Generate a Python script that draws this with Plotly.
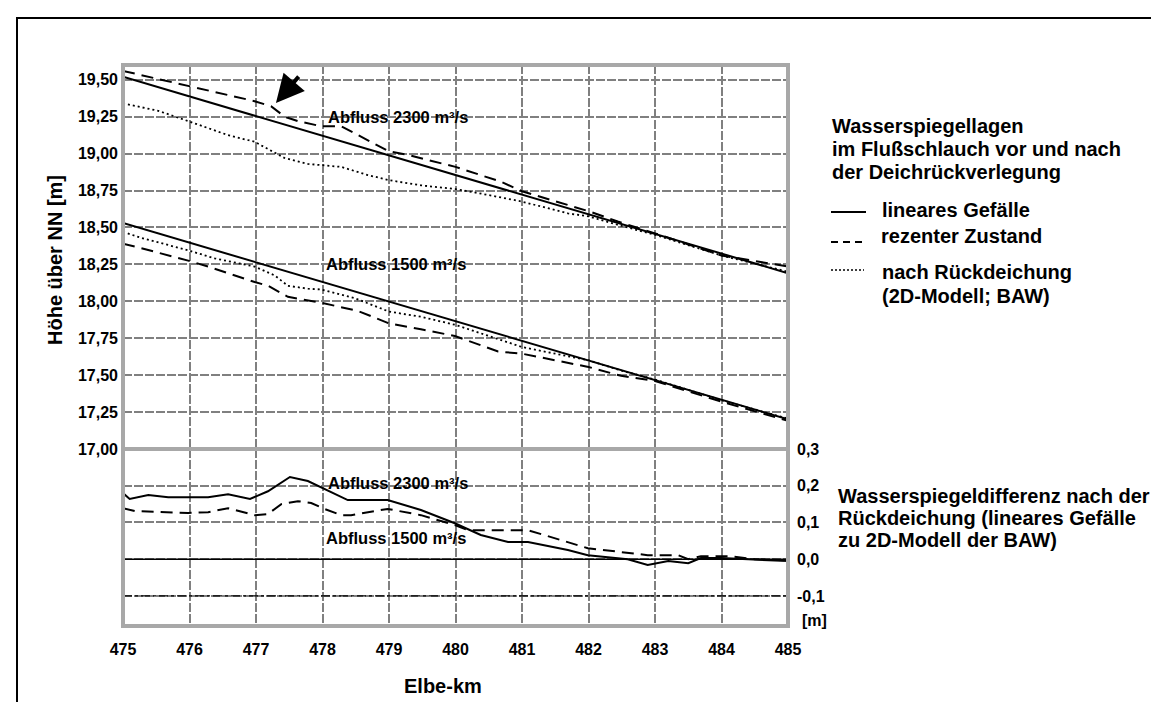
import plotly.graph_objects as go

# ---------------- data ----------------
km_lin = [475.0, 485.0]
lin_2300 = [19.52, 18.19]
lin_1500 = [18.53, 17.20]

km_rez_2300 = [475.0, 475.98, 476.53, 476.98, 477.23, 477.43, 477.63, 477.98, 478.28,
               479.0, 479.29, 480.0, 480.68, 481.0, 482.0, 482.44, 483.0, 484.0, 485.0]
rez_2300 = [19.56, 19.46, 19.40, 19.355, 19.32, 19.25, 19.22, 19.185, 19.185,
            19.015, 18.99, 18.91, 18.81, 18.745, 18.61, 18.54, 18.46, 18.31, 18.235]

km_rd_2300 = [475.0, 475.53, 475.98, 476.28, 476.58, 476.98, 477.28, 477.43, 477.78, 478.08,
              478.28, 478.68, 479.0, 479.48, 480.0, 480.49, 481.0, 481.69, 482.0, 482.5,
              483.0, 484.0, 485.0]
rd_2300 = [19.34, 19.29, 19.22, 19.17, 19.125, 19.08, 19.01, 18.97, 18.93, 18.92,
           18.91, 18.855, 18.82, 18.785, 18.76, 18.72, 18.675, 18.595, 18.575, 18.51,
           18.45, 18.31, 18.20]

km_rez_1500 = [475.0, 475.27, 475.98, 476.28, 476.98, 477.18, 477.48, 477.98, 478.53, 479.0,
               479.48, 479.99, 480.64, 481.0, 482.0, 482.49, 483.0, 484.0, 485.0]
rez_1500 = [18.39, 18.36, 18.275, 18.235, 18.13, 18.105, 18.03, 17.99, 17.935, 17.85,
            17.81, 17.765, 17.66, 17.645, 17.555, 17.495, 17.46, 17.32, 17.19]

km_rd_1500 = [475.0, 475.27, 475.98, 476.38, 476.98, 477.28, 477.48, 477.78, 477.98, 478.49,
              479.0, 479.48, 480.0, 481.0, 482.0, 482.5, 483.0, 484.0, 485.0]
rd_1500 = [18.47, 18.43, 18.345, 18.29, 18.235, 18.175, 18.105, 18.085, 18.08, 18.02,
           17.93, 17.895, 17.84, 17.69, 17.60, 17.53, 17.47, 17.33, 17.205]

km_diff_2300 = [475.0, 475.1, 475.38, 475.68, 475.98, 476.28, 476.58, 476.91, 477.18, 477.51,
                477.78, 478.03, 478.38, 478.98, 479.48, 479.99, 480.38, 480.79, 481.09, 481.39,
                481.69, 481.99, 482.29, 482.59, 482.89, 483.2, 483.5, 483.69, 484.0, 484.5, 485.0]
diff_2300 = [0.18, 0.164, 0.175, 0.169, 0.169, 0.169, 0.177, 0.164, 0.185, 0.224,
             0.213, 0.191, 0.161, 0.161, 0.134, 0.098, 0.066, 0.047, 0.047, 0.036,
             0.025, 0.011, 0.006, 0.0, -0.016, -0.005, -0.011, 0.003, 0.003, -0.002, -0.005]

km_diff_1500 = [475.0, 475.18, 475.98, 476.28, 476.58, 476.98, 477.18, 477.38, 477.63, 477.83,
                478.03, 478.28, 478.43, 478.98, 479.48, 479.99, 480.19, 481.09, 481.99, 482.89,
                483.35, 483.5, 483.69, 484.14, 484.5, 485.0]
diff_1500 = [0.139, 0.131, 0.126, 0.128, 0.139, 0.12, 0.123, 0.15, 0.158, 0.153,
             0.137, 0.12, 0.12, 0.137, 0.12, 0.093, 0.079, 0.079, 0.03, 0.011,
             0.011, 0.0, 0.008, 0.008, 0.0, -0.003]

x_ticks = list(range(475, 486))
y_ticks = [17.00, 17.25, 17.50, 17.75, 18.00, 18.25, 18.50, 18.75, 19.00, 19.25, 19.50]
y_ticktext = ["17,00", "17,25", "17,50", "17,75", "18,00", "18,25", "18,50", "18,75",
              "19,00", "19,25", "19,50"]
y2_ticks = [-0.1, 0.0, 0.1, 0.2, 0.3]
y2_ticktext = ["-0,1", "0,0", "0,1", "0,2", "0,3"]
ref_zero = 0.0
ref_minus = -0.1

# ---------------- styling ----------------
FONT = "Liberation Sans, Arial, sans-serif"
GRID = "#808080"
FRAME = "#a8a8a8"
W, H = 1159, 702
L, R, T, B = 115, 379, 57, 84
PW, PH = W - L - R, H - T - B
SPLIT = (618 - 441) / PH


def px(xp):
    return (xp - L) / PW


def py(yp):
    return (H - B - yp) / PH


fig = go.Figure()
solid = dict(color="black", width=2)
dashed = dict(color="black", width=2, dash="12px,7px")
dotted = dict(color="black", width=1.8, dash="2px,3px")

fig.add_trace(go.Scatter(x=km_lin, y=lin_2300, mode="lines", line=solid, yaxis="y"))
fig.add_trace(go.Scatter(x=km_rez_2300, y=rez_2300, mode="lines", line=dashed, yaxis="y"))
fig.add_trace(go.Scatter(x=km_rd_2300, y=rd_2300, mode="lines", line=dotted, yaxis="y"))
fig.add_trace(go.Scatter(x=km_lin, y=lin_1500, mode="lines", line=solid, yaxis="y"))
fig.add_trace(go.Scatter(x=km_rez_1500, y=rez_1500, mode="lines", line=dashed, yaxis="y"))
fig.add_trace(go.Scatter(x=km_rd_1500, y=rd_1500, mode="lines", line=dotted, yaxis="y"))
fig.add_trace(go.Scatter(x=km_diff_2300, y=diff_2300, mode="lines", line=solid, yaxis="y2"))
fig.add_trace(go.Scatter(x=km_diff_1500, y=diff_1500, mode="lines", line=dashed, yaxis="y2"))

tickfont = dict(family=FONT, size=16, color="black", weight="bold")
fig.update_layout(
    width=W, height=H,
    margin=dict(l=L, r=R, t=T, b=B, autoexpand=False),
    paper_bgcolor="white", plot_bgcolor="white",
    showlegend=False,
    font=dict(family=FONT, color="black", weight="bold"),
    xaxis=dict(range=[475, 485], domain=[0, 1], anchor="y2", tickvals=x_ticks,
               ticks="", showline=False, zeroline=False, showgrid=True,
               gridcolor=GRID, gridwidth=1.5, griddash="9px,2px",
               tickfont=tickfont, ticklabelstandoff=12),
    yaxis=dict(range=[16.9995, 19.60], domain=[SPLIT, 1], anchor="x", side="left",
               tickvals=y_ticks, ticktext=y_ticktext, ticks="", showline=False,
               zeroline=False, showgrid=True, gridcolor=GRID, gridwidth=1.5,
               griddash="9px,2px", tickfont=tickfont, ticklabelstandoff=4),
    yaxis2=dict(range=[-0.182, 0.3002], domain=[0, SPLIT], anchor="x", side="right",
                tickvals=y2_ticks, ticktext=y2_ticktext, ticks="", showline=False,
                zeroline=False, showgrid=True, gridcolor=GRID, gridwidth=1.5,
                griddash="9px,2px", tickfont=tickfont, ticklabelstandoff=8),
)

shapes = []
# reference lines in the difference panel
shapes.append(dict(type="line", xref="x domain", yref="y2", x0=0, x1=1, y0=ref_zero, y1=ref_zero,
                   line=dict(color="black", width=1.5), layer="above"))
shapes.append(dict(type="line", xref="x domain", yref="y2", x0=0, x1=1, y0=ref_minus, y1=ref_minus,
                   line=dict(color="black", width=1.2, dash="dashdot"), layer="above"))
# frame of the plot area and separator
shapes.append(dict(type="rect", xref="paper", yref="paper", x0=0, x1=1, y0=0, y1=1,
                   line=dict(color=FRAME, width=4), layer="above"))
shapes.append(dict(type="line", xref="paper", yref="paper", x0=0, x1=1, y0=SPLIT, y1=SPLIT,
                   line=dict(color=FRAME, width=4), layer="above"))
# outer border of the figure
shapes.append(dict(type="rect", xref="paper", yref="paper", x0=px(9), x1=px(1170),
                   y0=py(715), y1=py(10), line=dict(color="black", width=2), layer="above"))
# legend samples
shapes.append(dict(type="line", xref="paper", yref="paper", x0=px(823), x1=px(858),
                   y0=py(204), y1=py(204), line=dict(color="black", width=1.8)))
shapes.append(dict(type="line", xref="paper", yref="paper", x0=px(823), x1=px(858),
                   y0=py(234), y1=py(234), line=dict(color="black", width=1.8, dash="7px,5px")))
shapes.append(dict(type="line", xref="paper", yref="paper", x0=px(823), x1=px(856),
                   y0=py(262), y1=py(262), line=dict(color="black", width=1.5, dash="2px,2px")))
fig.update_layout(shapes=shapes)

ann = []


def text(t, xp, yp, size, xanchor="left", angle=0):
    ann.append(dict(text=t, xref="paper", yref="paper", x=px(xp), y=py(yp), showarrow=False,
                    xanchor=xanchor, yanchor="middle", textangle=angle,
                    font=dict(family=FONT, size=size, color="black", weight="bold")))


# curve labels
text("Abfluss 2300 m³/s", 318, 109, 16.5)
text("Abfluss 1500 m³/s", 316, 256, 16.5)
text("Abfluss 2300 m³/s", 318, 475, 16.5)
text("Abfluss 1500 m³/s", 316, 530, 16.5)
# axis titles
text("Höhe über NN [m]", 47, 252, 20, xanchor="center", angle=-90)
text("Elbe-km", 435, 678, 20, xanchor="center")
text("[m]", 792, 612, 16)
# legend texts
text("Wasserspiegellagen", 822, 118, 20)
text("im Flußschlauch vor und nach", 822, 141, 20)
text("der Deichrückverlegung", 822, 164, 20)
text("lineares Gefälle", 872, 202, 20)
text("rezenter Zustand", 871, 228, 20)
text("nach Rückdeichung", 872, 264, 20)
text("(2D-Modell; BAW)", 872, 288, 20)
text("Wasserspiegeldifferenz nach der", 828, 488, 20)
text("Rückdeichung (lineares Gefälle", 828, 510, 20)
text("zu 2D-Modell der BAW)", 828, 532, 20)

# arrow pointing at the dashed curve
ann.append(dict(text="", x=477.30, y=19.342, xref="x", yref="y", ax=24, ay=-28,
                showarrow=True, arrowhead=2, arrowsize=1.4, arrowwidth=4,
                arrowcolor="black", standoff=0))
fig.update_layout(annotations=ann)

fig.write_html("out.html")
